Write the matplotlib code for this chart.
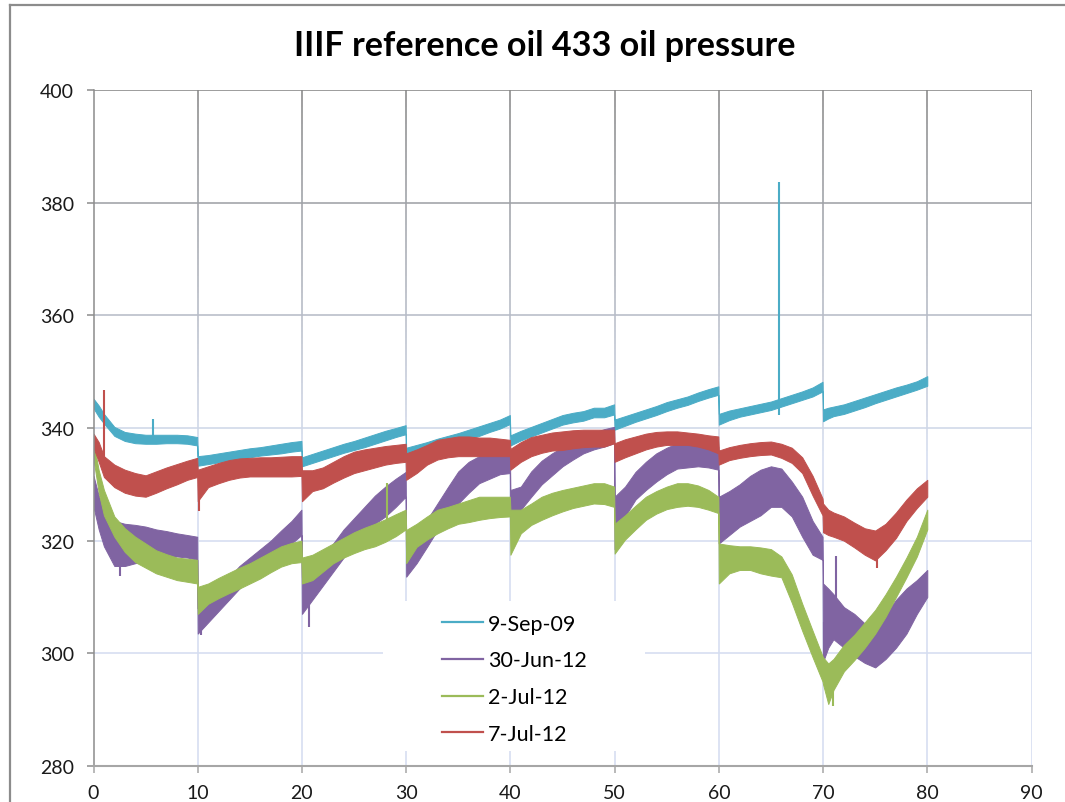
import numpy as np
import matplotlib
matplotlib.use("Agg")
import matplotlib.pyplot as plt
from matplotlib.collections import LineCollection
from matplotlib.patches import Rectangle
from matplotlib.lines import Line2D

plt.rcParams['font.family'] = ['Lato', 'DejaVu Sans']

# Test hours at which the noise band of each run was sampled
HOURS = [0, 0.5, 1, 2, 3, 4, 5, 6, 7, 8, 9, 9.95,
         10, 11, 12, 13, 14, 15, 16, 17, 18, 19, 19.95,
         20, 21, 22, 23, 24, 25, 26, 27, 28, 29, 29.95,
         30, 31, 32, 33, 34, 35, 36, 37, 38, 39, 39.95,
         40, 41, 42, 43, 44, 45, 46, 47, 48, 49, 49.95,
         50, 51, 52, 53, 54, 55, 56, 57, 58, 59, 59.95,
         60, 61, 62, 63, 64, 65, 66, 67, 68, 69, 69.95,
         70, 70.5, 71, 72, 73, 74, 75, 76, 77, 78, 79, 80]

LABELS = ["9-Sep-09", "30-Jun-12", "2-Jul-12", "7-Jul-12"]
COLORS = ["#4BACC6", "#8064A2", "#9BBB59", "#C0504D"]

# Oil pressure band (upper / lower edge of the noisy trace)
SEP09_HI = [345.2, 344.0, 342.5, 340.2, 339.3, 339.0, 338.8, 338.8, 338.8, 338.8, 338.7, 338.4,
            335.0, 335.2, 335.5, 335.8, 336.1, 336.4, 336.6, 336.9, 337.2, 337.5, 337.7,
            334.8, 335.4, 336.0, 336.6, 337.2, 337.7, 338.3, 338.9, 339.5, 340.0, 340.5,
            336.5, 337.0, 337.5, 338.1, 338.6, 339.1, 339.7, 340.3, 340.9, 341.5, 342.3,
            338.7, 339.5, 340.2, 340.9, 341.6, 342.3, 342.7, 343.0, 343.6, 343.6, 344.2,
            341.5, 342.1, 342.7, 343.3, 343.9, 344.6, 345.1, 345.6, 346.3, 346.9, 347.4,
            342.5, 343.1, 343.5, 343.9, 344.3, 344.7, 345.3, 345.9, 346.5, 347.2, 348.2,
            343.3, 343.6, 343.8, 344.2, 344.8, 345.4, 346.0, 346.6, 347.2, 347.7, 348.3, 349.2]
SEP09_LO = [343.5, 342.0, 340.8, 338.6, 337.7, 337.3, 337.2, 337.2, 337.3, 337.3, 337.2, 336.9,
            333.3, 333.6, 333.9, 334.2, 334.5, 334.8, 335.1, 335.3, 335.5, 335.8, 336.0,
            333.2, 333.8, 334.4, 335.0, 335.6, 336.1, 336.6, 337.2, 337.8, 338.4, 338.9,
            334.7, 335.3, 335.8, 336.4, 337.0, 337.5, 338.1, 338.6, 339.3, 339.9, 340.7,
            336.9, 337.8, 338.5, 339.2, 339.9, 340.6, 341.0, 341.3, 341.9, 341.9, 342.4,
            339.7, 340.4, 341.1, 341.7, 342.3, 343.0, 343.6, 344.1, 344.8, 345.4, 345.9,
            340.6, 341.4, 342.0, 342.4, 342.8, 343.2, 343.8, 344.4, 345.0, 345.6, 346.5,
            341.2, 341.7, 342.1, 342.5, 343.1, 343.7, 344.4, 345.0, 345.6, 346.2, 346.8, 347.5]

JUN30_HI = [331.5, 328.0, 325.5, 323.5, 323.0, 322.8, 322.5, 322.0, 321.7, 321.3, 321.0, 320.7,
            308.0, 309.5, 311.5, 313.5, 315.5, 317.0, 318.5, 320.0, 321.8, 323.5, 325.5,
            313.5, 314.8, 317.0, 319.5, 322.0, 324.0, 326.0, 328.0, 329.6, 331.0, 332.2,
            319.5, 320.7, 323.7, 326.6, 329.5, 332.3, 334.0, 335.0, 335.7, 336.0, 336.1,
            329.0, 329.6, 332.3, 334.2, 335.5, 336.6, 337.6, 338.4, 339.2, 339.8, 340.2,
            327.8, 329.6, 332.2, 334.0, 335.5, 336.5, 337.3, 337.5, 337.4, 337.2, 336.7,
            327.8, 328.8, 330.0, 331.5, 332.6, 333.2, 332.8, 330.5, 327.8, 323.5, 320.7,
            312.4, 311.5, 310.5, 308.2, 307.0, 305.3, 305.5, 307.0, 309.5, 311.5, 313.0, 314.8]
JUN30_LO = [326.0, 322.0, 319.0, 315.5, 315.5, 316.0, 316.5, 317.0, 317.0, 317.2, 317.0, 316.6,
            303.5, 305.5, 307.5, 309.5, 311.5, 313.5, 315.0, 316.5, 318.3, 319.5, 321.0,
            307.0, 309.5, 312.0, 314.5, 317.0, 319.5, 321.8, 323.0, 324.3, 326.0, 327.8,
            313.6, 316.0, 318.9, 321.9, 324.5, 326.6, 328.5, 330.2, 331.0, 331.8, 332.0,
            322.5, 325.5, 327.8, 330.0, 331.6, 333.2, 334.4, 335.5, 336.2, 336.7, 337.3,
            318.5, 324.3, 327.3, 329.0, 330.5, 331.8, 332.8, 333.0, 333.2, 333.0, 332.6,
            319.5, 321.0, 322.5, 323.5, 324.5, 326.0, 326.0, 324.3, 320.7, 317.5, 316.6,
            298.5, 301.0, 302.5, 301.0, 299.5, 298.3, 297.5, 299.0, 301.0, 303.5, 307.0, 310.0]

JUL02_HI = [337.5, 332.5, 329.0, 324.3, 322.2, 320.7, 319.5, 318.3, 317.6, 317.0, 316.8, 316.6,
            311.8, 312.4, 313.4, 314.3, 315.2, 316.0, 317.0, 318.0, 319.0, 319.6, 320.0,
            317.0, 317.5, 318.5, 319.5, 320.5, 321.5, 322.3, 323.0, 323.8, 324.7, 325.5,
            321.9, 323.0, 324.3, 325.5, 326.0, 326.6, 327.2, 327.8, 327.8, 327.8, 327.8,
            325.5, 325.5, 326.6, 327.8, 328.5, 329.0, 329.4, 329.8, 330.2, 330.2, 329.6,
            323.0, 324.5, 326.2, 327.8, 328.8, 329.6, 330.2, 330.2, 329.8, 329.0, 327.8,
            319.5, 319.2, 319.0, 319.0, 318.8, 318.5, 317.2, 314.0, 308.8, 304.0, 299.5,
            299.3, 298.2, 299.0, 301.5, 303.3, 305.5, 307.7, 310.5, 313.6, 317.0, 320.7, 325.5]
JUL02_LO = [334.5, 328.5, 324.5, 320.7, 318.0, 316.2, 315.2, 314.2, 313.6, 313.0, 312.7, 312.4,
            307.0, 308.8, 309.8, 310.7, 311.5, 312.4, 313.3, 314.4, 315.4, 316.0, 316.2,
            312.4, 313.0, 314.5, 316.0, 317.0, 317.8, 318.5, 319.0, 319.8, 320.8, 322.0,
            316.0, 318.9, 320.2, 321.3, 322.2, 323.0, 323.3, 323.7, 324.0, 324.2, 324.3,
            317.5, 321.3, 322.8, 323.7, 324.5, 325.2, 325.8, 326.2, 326.6, 326.5, 326.0,
            317.7, 320.2, 322.0, 323.7, 324.8, 325.6, 326.0, 326.2, 326.0, 325.5, 324.9,
            312.4, 314.2, 314.8, 314.8, 314.2, 313.8, 313.5, 309.0, 304.0, 299.3, 295.0,
            294.5, 291.0, 293.5, 296.8, 298.8, 301.0, 303.5, 306.5, 310.0, 313.5, 317.2, 322.0]

JUL07_HI = [339.0, 337.5, 335.0, 333.5, 332.6, 332.0, 331.6, 332.3, 333.0, 333.6, 334.2, 334.7,
            332.6, 333.2, 333.8, 334.3, 334.6, 334.7, 334.8, 334.8, 334.9, 335.0, 335.0,
            332.5, 332.5, 333.0, 334.0, 335.0, 335.8, 336.2, 336.5, 336.8, 337.0, 337.2,
            335.5, 336.2, 337.0, 337.9, 338.2, 338.5, 338.5, 338.3, 338.3, 338.1, 337.9,
            336.3, 337.5, 338.4, 338.8, 339.2, 339.4, 339.6, 339.7, 339.7, 339.7, 339.7,
            337.3, 338.0, 338.5, 339.0, 339.3, 339.4, 339.4, 339.2, 339.0, 338.7, 338.5,
            336.0, 336.6, 337.0, 337.3, 337.5, 337.6, 337.2, 336.5, 334.8, 331.5, 327.5,
            326.6, 325.5, 325.0, 324.3, 323.2, 322.2, 321.8, 323.0, 325.0, 327.3, 329.3, 330.8]
JUL07_LO = [336.5, 334.0, 331.3, 329.5, 328.5, 328.0, 327.8, 328.5, 329.3, 330.0, 330.8, 331.3,
            327.0, 329.5, 330.2, 330.8, 331.2, 331.4, 331.4, 331.4, 331.4, 331.4, 331.5,
            327.0, 328.8, 329.3, 330.3, 331.2, 332.0, 332.5, 333.0, 333.5, 333.8, 334.0,
            330.8, 332.0, 333.5, 334.4, 334.8, 335.0, 335.0, 335.0, 335.0, 335.0, 335.0,
            332.6, 334.0, 335.0, 335.6, 336.0, 336.1, 336.4, 336.6, 336.7, 336.7, 337.3,
            334.0, 334.8, 335.5, 336.2, 336.7, 337.0, 337.0, 337.0, 336.7, 336.2, 335.5,
            333.5, 334.3, 334.7, 335.0, 335.2, 335.3, 334.7, 333.8, 332.0, 328.0, 324.5,
            321.5, 321.0, 320.7, 320.0, 318.8, 317.5, 316.5, 318.3, 320.5, 323.5, 325.8, 327.8]

# Isolated spikes in each trace: (hour, pressure at spike tip)
SEP09_SPIKES = [(5.72, 341.6), (65.77, 383.6), (65.8, 342.3)]
JUN30_SPIKES = [(2.5, 313.8), (10.3, 303.2), (20.7, 304.7), (70.05, 297.0), (71.25, 317.2)]
JUL02_SPIKES = [(28.15, 330.2), (70.95, 290.7)]
JUL07_SPIKES = [(0.99, 346.7), (10.1, 325.2), (75.2, 315.2)]

BANDS = [(SEP09_LO, SEP09_HI, SEP09_SPIKES),
         (JUN30_LO, JUN30_HI, JUN30_SPIKES),
         (JUL02_LO, JUL02_HI, JUL02_SPIKES),
         (JUL07_LO, JUL07_HI, JUL07_SPIKES)]

X_TICKS = [0, 10, 20, 30, 40, 50, 60, 70, 80, 90]
Y_TICKS = [280, 300, 320, 340, 360, 380, 400]
TITLE = "IIIF reference oil 433 oil pressure"

W, H = 1065, 803
fig = plt.figure(figsize=(W / 100, H / 100), dpi=100)
fig.patch.set_facecolor("white")
ax = fig.add_axes([93.5 / W, 36 / H, 938 / W, 676 / H])
ax.set_xlim(0, 90)
ax.set_ylim(280, 400)

# Gridlines fading from grey at the top to pale blue lower down
GRID_TOP = np.array([0.53, 0.53, 0.53])
GRID_LOW = np.array([0.835, 0.868, 0.94])


def grid_color(v):
    t = np.clip((400 - v) / 65.0, 0, 1)
    return tuple(GRID_TOP * (1 - t) + GRID_LOW * t)


ys = np.linspace(280, 400, 121)
segs, cols = [], []
for xv in X_TICKS[1:]:
    for a, b in zip(ys[:-1], ys[1:]):
        segs.append([(xv, a), (xv, b)])
        cols.append(grid_color((a + b) / 2))
for yv in Y_TICKS[1:]:
    segs.append([(0, yv), (90, yv)])
    cols.append(grid_color(yv))
ax.add_collection(LineCollection(segs, colors=cols, linewidths=1.15,
                                 zorder=1, capstyle='butt'))

# White area behind the legend
ax.add_patch(Rectangle((0.309, 0.022), 0.279, 0.222, transform=ax.transAxes,
                       facecolor="white", edgecolor="none", zorder=1.5))

hours = np.array(HOURS)
for i, ((lo, hi, spikes), color) in enumerate(zip(BANDS, COLORS)):
    lo = np.array(lo)
    hi = np.array(hi)
    ax.fill_between(hours, lo, hi, facecolor=color, edgecolor=color,
                    linewidth=0.7, zorder=2 + i * 0.1)
    mid = (lo + hi) / 2
    for sx, tip in spikes:
        base = np.interp(sx, hours, mid)
        ax.vlines(sx, min(base, tip), max(base, tip), color=color,
                  linewidth=1.5, zorder=2 + i * 0.1)

# Axes styling
for side in ("top", "right"):
    ax.spines[side].set_visible(False)
ax.spines["left"].set_color("#8c8c8c")
ax.spines["left"].set_linewidth(1.1)
ax.spines["bottom"].set_color("#a6a6a6")
ax.spines["bottom"].set_linewidth(1.5)
ax.set_xticks(X_TICKS)
ax.set_yticks(Y_TICKS)
ax.tick_params(axis="y", direction="out", length=5, width=1.1, color="#8c8c8c",
               pad=9, labelsize=14, labelcolor="#1a1a1a")
ax.tick_params(axis="x", direction="out", length=5, width=1.1, color="#a6a6a6",
               pad=8, labelsize=14, labelcolor="#1a1a1a")

handles = [Line2D([0], [0], color=c, lw=1.6) for c in COLORS]
ax.legend(handles, LABELS, loc="upper left", bbox_to_anchor=(0.3715, 0.225),
          frameon=False, fontsize=15.5, handlelength=1.9, handletextpad=0.25,
          labelspacing=0.77, borderaxespad=0, borderpad=0)

# Title, sized to span the same width as the chart heading
title = fig.text(545 / W, 1 - 46 / H, TITLE, ha="center", va="center",
                 fontsize=24, fontweight="bold", color="black")
fig.canvas.draw()
tw = title.get_window_extent().width
title.set_fontsize(24 * 500 / tw)

# Chart-area border
bc = "#8c8c8c"
fig.add_artist(Line2D([10 / W, 1.0], [1 - 5.7 / H] * 2, transform=fig.transFigure,
                      color=bc, lw=1.6))
fig.add_artist(Line2D([10 / W] * 2, [1 - 5.7 / H, 0.0], transform=fig.transFigure,
                      color=bc, lw=1.6))

fig.savefig("out.png", dpi=100, facecolor="white")
